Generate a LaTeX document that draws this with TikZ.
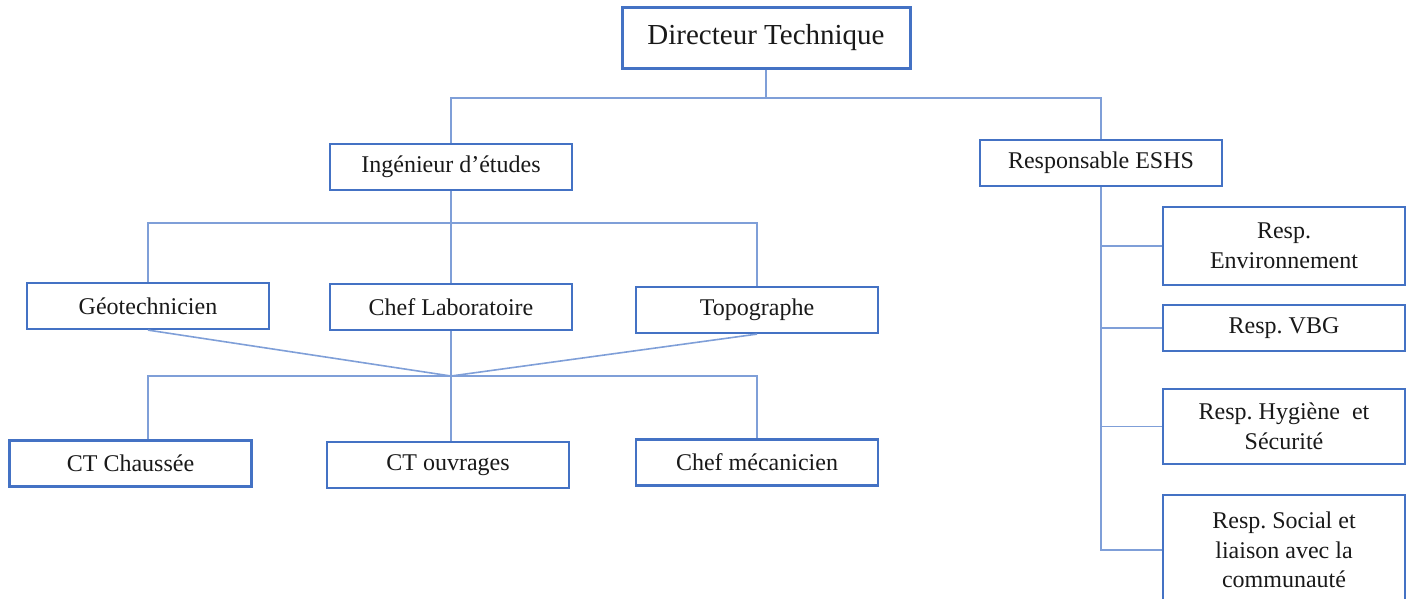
\documentclass[tikz,border=0pt]{standalone}
\usepackage{fontspec}
\setmainfont{Liberation Serif}
\frenchspacing
\definecolor{boxblue}{HTML}{4472C4}
\definecolor{lineblue}{HTML}{7F9FD8}
\begin{document}
\begin{tikzpicture}[x=1pt,y=-1pt,
  box/.style={draw=boxblue, line width=2.2pt, minimum width=242pt, minimum height=46pt, inner sep=0pt, align=center, text=black!90, font=\fontsize{24}{29.5}\selectfont},
  topbox/.style={box, line width=3pt, minimum width=288pt, minimum height=61pt, font=\fontsize{29}{34}\selectfont},
  conn/.style={draw=lineblue, line width=1.6pt}]
\useasboundingbox (0,0) rectangle (1411,598);
\begin{scope}
\clip (0,0) rectangle (1411,598);
% nodes
\node[topbox] (dt) at (766,37.5) {Directeur Technique};
\node[box] (ing) at (451,167) {Ingénieur d’études};
\node[box] (eshs) at (1101,163) {Responsable ESHS};
\node[box] (geo) at (148,306) {Géotechnicien};
\node[box] (chef) at (451,307) {Chef Laboratoire};
\node[box] (topo) at (757,310) {Topographe};
\node[box] (ctc) at (130.5,463.5) {CT Chaussée};
\node[box] (cto) at (448,465) {CT ouvrages};
\node[box] (mec) at (757,462.5) {Chef mécanicien};
\node[box, minimum height=78pt] (env) at (1284,246) {Resp.\\Environnement};
\node[box] (vbg) at (1284,328) {Resp. VBG};
\node[box, minimum height=75pt] (hyg) at (1284,426.5) {Resp. Hygiène~ et\\Sécurité};
\node[box, minimum height=110pt] (soc) at (1284,550) {Resp. Social et\\liaison avec la\\communauté};
% junctions
\coordinate (bus1) at (766,98);
\coordinate (bus2) at (451,223);
\coordinate (j3) at (451,376);
% connectors level 1
\draw[conn] (dt.south) -- (bus1);
\draw[conn] (ing.north) |- (bus1) -| (eshs.north);
% level 2
\draw[conn] (ing.south) -- (chef.north);
\draw[conn] (geo.north) |- (bus2) -| (topo.north);
% level 3
\draw[conn] (geo.south) -- (j3) -- (topo.south);
\draw[conn] (chef.south) -- (chef.south |- cto.north);
\draw[conn] (geo.south |- ctc.north) |- (j3) -| (mec.north);
% ESHS branch
\draw[conn] (eshs.south) -- (eshs.south |- soc.west) -- (soc.west);
\draw[conn] (eshs.south |- env.west) -- (env.west);
\draw[conn] (eshs.south |- vbg.west) -- (vbg.west);
\draw[conn] (eshs.south |- hyg.west) -- (hyg.west);
\end{scope}
\end{tikzpicture}
\end{document}
